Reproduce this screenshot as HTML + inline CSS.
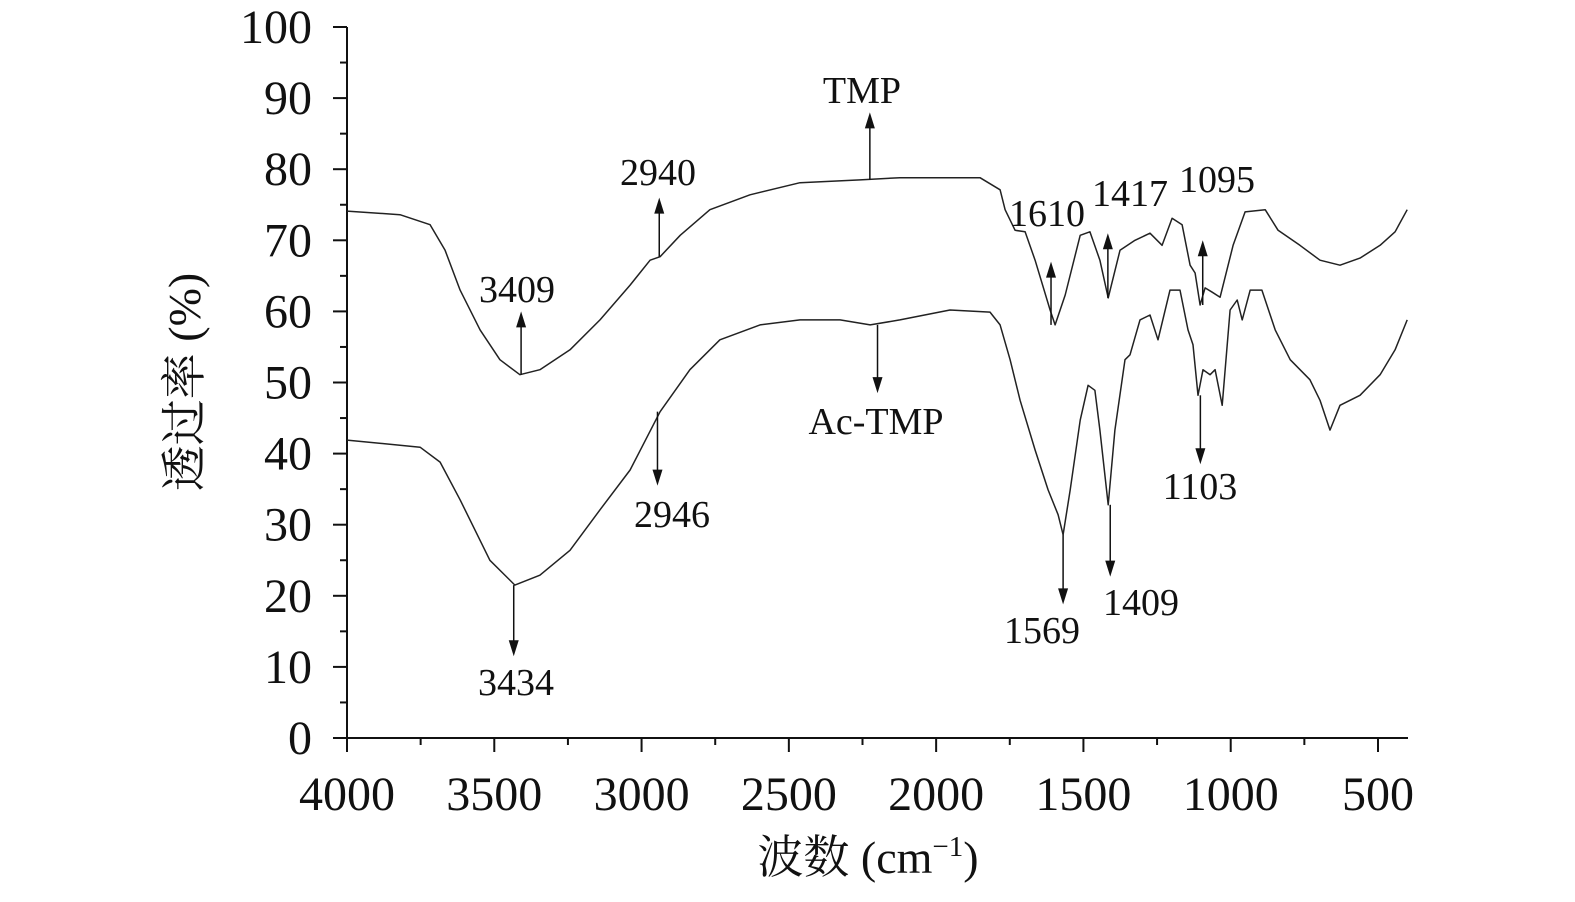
<!DOCTYPE html>
<html><head><meta charset="utf-8"><style>
body{margin:0;background:#fff;}
svg text{font-family:"Liberation Serif","Noto Serif CJK SC",serif;fill:#111;}
</style></head><body>
<svg id="chart" width="1575" height="897" xmlns="http://www.w3.org/2000/svg">
<g id="axes"></g><g id="series"></g><g id="annots"></g>
<text transform="translate(200,382) rotate(-90)" text-anchor="middle" font-size="46">透过率 (%)</text>
<text x="868" y="873" text-anchor="middle" font-size="46">波数 (cm<tspan font-size="29" dy="-17">−1</tspan><tspan dy="17">)</tspan></text>
</svg>
<script>
const tmpWn=[4000,3820,3718,3667,3616,3548,3481,3413,3345,3243,3141,3039,2971,2937,2869,2768,2632,2462,2258,2123,1851,1783,1766,1732,1698,1664,1613,1596,1562,1511,1478,1444,1416,1376,1325,1274,1233,1199,1165,1138,1121,1104,1087,1063,1036,992,951,883,839,765,697,629,561,493,442,401];
const tmpT=[74.1,73.6,72.2,68.6,63.0,57.4,53.2,51.1,51.8,54.6,58.8,63.7,67.2,67.7,70.7,74.3,76.4,78.1,78.5,78.8,78.8,77.1,74.3,71.4,71.2,67.2,60.2,58.1,62.3,70.7,71.2,67.2,61.9,68.6,70.0,71.0,69.3,73.1,72.2,66.5,65.4,60.9,63.3,62.7,62.0,69.3,74.0,74.3,71.4,69.3,67.2,66.5,67.5,69.3,71.2,74.3];
const acWn=[4000,3752,3684,3616,3515,3430,3345,3243,3141,3039,2937,2836,2734,2598,2462,2326,2224,2123,1953,1817,1783,1749,1715,1664,1620,1586,1569,1545,1511,1484,1461,1444,1416,1393,1359,1342,1308,1274,1247,1206,1172,1145,1128,1111,1094,1070,1053,1029,1002,978,961,934,894,849,798,731,697,663,629,561,493,442,401];
const acT=[41.9,40.9,38.8,33.5,25.0,21.5,22.9,26.4,32.1,37.7,45.9,51.8,56.0,58.1,58.8,58.8,58.1,58.8,60.2,59.9,58.1,53.2,47.5,40.5,34.9,31.4,28.6,34.9,44.7,49.6,48.9,43.3,32.8,43.3,53.2,53.9,58.8,59.5,56.0,63.0,63.0,57.4,55.3,48.2,51.8,51.1,51.8,46.8,60.2,61.6,58.8,63.0,63.0,57.4,53.2,50.4,47.5,43.3,46.8,48.2,51.1,54.6,58.8];
const xTicks=[4000,3500,3000,2500,2000,1500,1000,500];
const yTicks=[0,10,20,30,40,50,60,70,80,90,100];
const annLabels=["TMP","2940","3409","1610","1417","1095","Ac-TMP","2946","3434","1569","1409","1103"];
const annWn=[2225,2940,3409,1610,1417,1095,2199,2946,3434,1569,1409,1103];
const annFrom=[78.5,67.7,51.1,58.1,61.9,60.9,58.1,45.9,21.5,28.6,32.8,48.2];
const annTo=[88,76,60,67,71,70,48.5,35.5,11.5,18.8,22.7,38.5];
const annTx=[862,658,517,1047,1130,1217,876,672,516,1042,1141,1200];
const annTy=[103,185,302,226,206,192,434,527,695,643,615,499];

const X=w=>347+(4000-w)*0.29457;
const Y=t=>738-t*7.11;
const NS="http://www.w3.org/2000/svg";
function mk(tag,attrs,parent){const e=document.createElementNS(NS,tag);for(const k in attrs)e.setAttribute(k,attrs[k]);parent.appendChild(e);return e;}
const ax=document.getElementById('axes');
let e=mk('line',{x1:347,y1:27,x2:347,y2:739,stroke:'#111','stroke-width':2},ax);


e=mk('line',{x1:346,y1:738,x2:1408,y2:738,stroke:'#111','stroke-width':2},ax);


yTicks.forEach((t,i)=>{
  mk('line',{x1:333,y1:Y(t),x2:347,y2:Y(t),stroke:'#111','stroke-width':2},ax);
  if(i<yTicks.length-1)mk('line',{x1:340,y1:Y(t+5),x2:347,y2:Y(t+5),stroke:'#111','stroke-width':2},ax);
  const tx=mk('text',{x:312,y:Y(t)+16,'text-anchor':'end','font-size':48},ax);tx.textContent=t;
  
  
});
xTicks.forEach((w,i)=>{
  mk('line',{x1:X(w),y1:738,x2:X(w),y2:752,stroke:'#111','stroke-width':2},ax);
  if(X(w-250)<1408)mk('line',{x1:X(w-250),y1:738,x2:X(w-250),y2:745,stroke:'#111','stroke-width':2},ax);
  const tx=mk('text',{x:X(w),y:810,'text-anchor':'middle','font-size':48},ax);tx.textContent=w;
  
  
});
const sg=document.getElementById('series');
function line(wn,t,name){
  const d=wn.map((w,i)=>(i?'L':'M')+X(w).toFixed(1)+','+Y(t[i]).toFixed(1)).join('');
  const p=mk('path',{d:d,fill:'none',stroke:'#222','stroke-width':1.5,'stroke-linejoin':'round'},sg);
  
  
}
line(tmpWn,tmpT,'tmp-spectrum');
line(acWn,acT,'ac-tmp-spectrum');
const ag=document.getElementById('annots');
annLabels.forEach((l,i)=>{
  const x=X(annWn[i]),y1=Y(annFrom[i]),y2=Y(annTo[i]);
  const dir=y2<y1?-1:1;
  const a=mk('line',{x1:x,y1:y1,x2:x,y2:y2-dir*14,stroke:'#111','stroke-width':1.5},ag);
  
  
  const h=mk('polygon',{points:`${x-5},${y2-dir*16} ${x+5},${y2-dir*16} ${x},${y2}`,fill:'#111'},ag);
  
  
  const t=mk('text',{x:annTx[i],y:annTy[i],'text-anchor':'middle','font-size':38},ag);t.textContent=l;
  
  
});
</script>
</body></html>
